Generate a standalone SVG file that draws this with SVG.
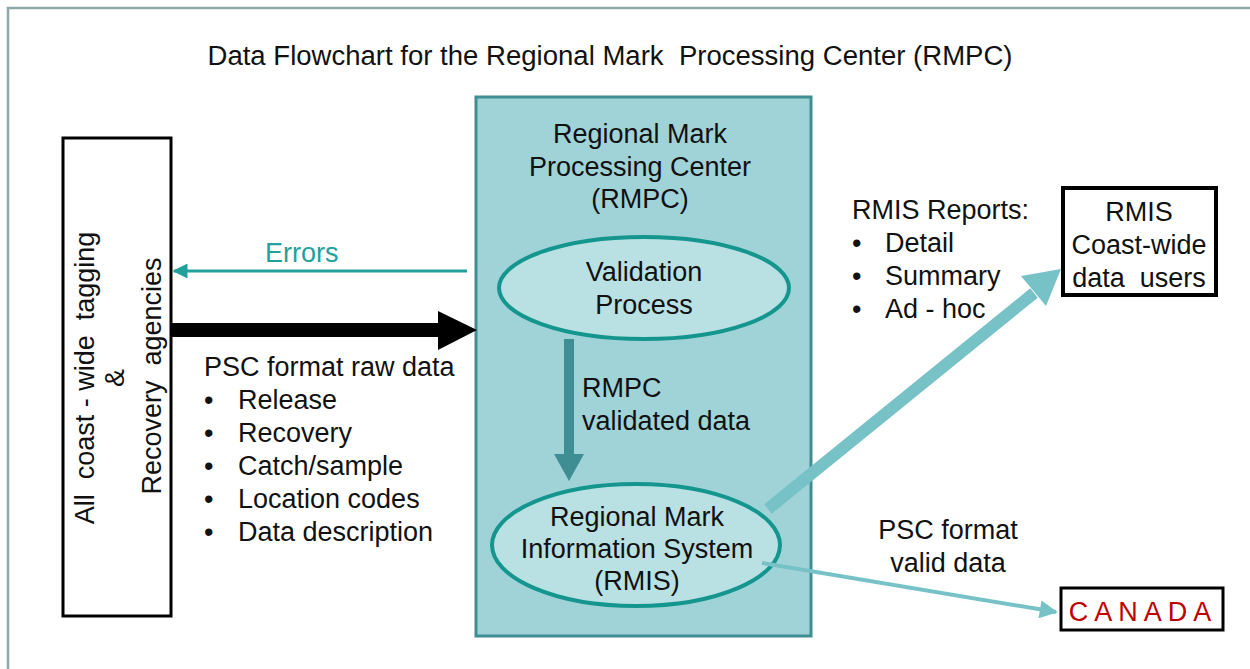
<svg xmlns="http://www.w3.org/2000/svg" width="1250" height="669" viewBox="0 0 1250 669">
<style>
text{font-family:"Liberation Sans",Arial,sans-serif;fill:#111;font-size:27px;white-space:pre}
.c{text-anchor:middle}
.teal{fill:#22a09b}
.red{fill:#c00000}
</style>
<defs>
<marker id="errHead" viewBox="0 0 10 10" refX="9" refY="5" markerWidth="5" markerHeight="5" orient="auto" markerUnits="strokeWidth"><path d="M0,0 L10,5 L0,10 z" fill="#22a09b"/></marker>
<marker id="thinHead" viewBox="0 0 10 10" refX="9" refY="5" markerWidth="5" markerHeight="4.5" orient="auto" markerUnits="strokeWidth"><path d="M0,0 L10,5 L0,10 z" fill="#76c2c6"/></marker>
</defs>
<rect x="0" y="0" width="1250" height="669" fill="#ffffff"/>
<path d="M8,669 L8,8 L1250,8" fill="none" stroke="#8fa9a9" stroke-width="2.5"/>
<text class="c" x="610" y="65" font-size="25" textLength="805" lengthAdjust="spacingAndGlyphs" xml:space="preserve">Data Flowchart for the Regional Mark  Processing Center (RMPC)</text>

<g id="agencies">
<rect x="63" y="138" width="108" height="478" fill="#ffffff" stroke="#000" stroke-width="3"/>
<text class="c" transform="translate(94,378) rotate(-90)" xml:space="preserve">All  coast - wide  tagging</text>
<text class="c" transform="translate(124,378) rotate(-90)">&amp;</text>
<text class="c" transform="translate(161,376) rotate(-90)" xml:space="preserve">Recovery  agencies</text>
</g>

<g id="rmpc">
<rect x="476" y="97" width="335" height="539" fill="#a0d3d7" stroke="#3e8e93" stroke-width="3"/>
<text class="c" x="640" y="143">Regional Mark</text>
<text class="c" x="640" y="176">Processing Center</text>
<text class="c" x="640" y="208">(RMPC)</text>
</g>

<g id="validation">
<ellipse cx="644" cy="288" rx="145" ry="51" fill="#b9e0e3" stroke="#14968f" stroke-width="4"/>
<text class="c" x="644" y="281">Validation</text>
<text class="c" x="644" y="314">Process</text>
</g>

<g id="rmis">
<ellipse cx="636" cy="545" rx="144" ry="61" fill="#b9e0e3" stroke="#14968f" stroke-width="4"/>
<text class="c" x="637" y="526">Regional Mark</text>
<text class="c" x="637" y="558">Information System</text>
<text class="c" x="637" y="590">(RMIS)</text>
</g>

<g id="users">
<rect x="1063" y="188" width="153" height="107" fill="#ffffff" stroke="#000" stroke-width="4"/>
<text class="c" x="1139" y="221">RMIS</text>
<text class="c" x="1139" y="254">Coast-wide</text>
<text class="c" x="1139" y="287" xml:space="preserve">data  users</text>
</g>

<g id="canada">
<rect x="1061" y="588" width="162" height="42" fill="#ffffff" stroke="#000" stroke-width="3"/>
<text class="c red" x="1143" y="621" font-size="26" letter-spacing="6">CANADA</text>
</g>

<g id="connectors">
<line x1="467" y1="271" x2="174" y2="271" stroke="#22a09b" stroke-width="3" marker-end="url(#errHead)"/>
<rect x="172" y="323" width="268" height="14" fill="#000"/>
<polygon points="438,311 477,330 438,350" fill="#000"/>
<rect x="564" y="339" width="10" height="116" fill="#3e8e93"/>
<polygon points="554,454 584,454 569,481" fill="#3e8e93"/>
<line x1="768" y1="509" x2="1034" y2="293" stroke="#76c2c6" stroke-width="12"/>
<polygon points="1061,269 1021,276 1046,306" fill="#76c2c6"/>
<line x1="762" y1="563" x2="1056" y2="612" stroke="#76c2c6" stroke-width="4" marker-end="url(#thinHead)"/>
</g>

<g id="labels">
<text class="teal" x="265" y="262">Errors</text>
<text x="204" y="376">PSC format raw data</text>
<text x="204" y="409">•</text><text x="238" y="409">Release</text>
<text x="204" y="442">•</text><text x="238" y="442">Recovery</text>
<text x="204" y="475">•</text><text x="238" y="475">Catch/sample</text>
<text x="204" y="508">•</text><text x="238" y="508">Location codes</text>
<text x="204" y="541">•</text><text x="238" y="541">Data description</text>
<text x="582" y="397">RMPC</text>
<text x="582" y="430">validated data</text>
<text x="852" y="219">RMIS Reports:</text>
<text x="852" y="252">•</text><text x="885" y="252">Detail</text>
<text x="852" y="285">•</text><text x="885" y="285">Summary</text>
<text x="852" y="318">•</text><text x="885" y="318">Ad - hoc</text>
<text class="c" x="948" y="539">PSC format</text>
<text class="c" x="948" y="572">valid data</text>
</g>
</svg>
